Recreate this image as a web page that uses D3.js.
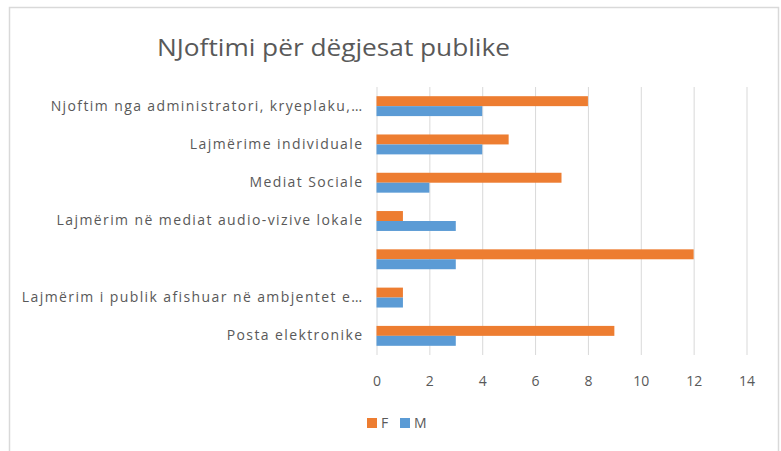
<!DOCTYPE html>
<html>
<head>
<meta charset="utf-8">
<script src="https://cdn.jsdelivr.net/npm/d3@7"></script>
<style>
  body { margin: 0; background: #fff; }
  svg { display: block; }
</style>
</head>
<body>
<div id="chart"></div>
<script>
// data
const categories = [
  "Njoftim nga administratori, kryeplaku,…",
  "Lajmërime individuale",
  "Mediat Sociale",
  "Lajmërim në mediat audio-vizive lokale",
  "",
  "Lajmërim i publik afishuar në ambjentet e…",
  "Posta elektronike"
];
const seriesNames = ["F", "M"];
const valuesF = [8, 5, 7, 1, 12, 1, 9];
const valuesM = [4, 4, 2, 3, 3, 1, 3];
const xTicks = [0, 2, 4, 6, 8, 10, 12, 14];
const colors = { F: "#ED7D31", M: "#5B9BD5" };

const W = 781, H = 451;
const svg = d3.select('#chart').append('svg')
  .attr('width', W).attr('height', H);

// chart frame
svg.append('rect')
  .attr('x', 9.5).attr('y', 7.5)
  .attr('width', 769).attr('height', 460)
  .attr('fill', '#fff').attr('stroke', '#d9d9d9').attr('stroke-width', 1.5);

// title
svg.append('text')
  .attr('x', 157).attr('y', 56)
  .attr('font-family', 'Open Sans, sans-serif')
  .attr('font-size', 23)
  .attr('fill', '#595959')
  .attr('textLength', 353)
  .attr('lengthAdjust', 'spacingAndGlyphs')
  .text('NJoftimi për dëgjesat publike');

const x = d3.scaleLinear().domain([0, 14]).range([376.5, 746.5]);
const y = d3.scaleBand().domain(d3.range(categories.length))
  .range([87, 355]).paddingInner(0.48).paddingOuter(0.24);
const ySub = d3.scaleBand().domain(seriesNames).range([0, y.bandwidth()]);

// gridlines
svg.append('g').selectAll('line').data(xTicks).join('line')
  .attr('x1', d => x(d) + 0.5).attr('x2', d => x(d) + 0.5)
  .attr('y1', 87).attr('y2', 355)
  .attr('stroke', '#d9d9d9').attr('stroke-width', 1);

// bars
const rows = categories.map((c, i) => ({ i, F: valuesF[i], M: valuesM[i] }));
const g = svg.append('g');
const grp = g.selectAll('g').data(rows).join('g')
  .attr('transform', d => `translate(0,${y(d.i)})`);
grp.selectAll('rect').data(d => seriesNames.map(k => ({ k, v: d[k] }))).join('rect')
  .attr('x', x(0))
  .attr('y', d => ySub(d.k))
  .attr('width', d => x(d.v) - x(0))
  .attr('height', ySub.bandwidth())
  .attr('fill', d => colors[d.k]);

// category axis
const yAxis = svg.append('g')
  .attr('transform', `translate(${x(0)},0)`)
  .call(d3.axisLeft(y).tickSize(0).tickPadding(13).tickFormat(i => categories[i]));
yAxis.select('.domain').remove();
yAxis.selectAll('text')
  .attr('font-family', 'Open Sans, sans-serif')
  .attr('font-size', 14)
  .attr('letter-spacing', 1.4)
  .attr('fill', '#595959');

// value axis
const xAxis = svg.append('g')
  .attr('transform', 'translate(0,355)')
  .call(d3.axisBottom(x).tickValues(xTicks).tickSize(0).tickPadding(21));
xAxis.select('.domain').remove();
xAxis.selectAll('text')
  .attr('font-family', 'Open Sans, sans-serif')
  .attr('font-size', 14)
  .attr('fill', '#595959');

// legend
const legendX = [367, 400];
const lg = svg.append('g').selectAll('g').data(seriesNames).join('g')
  .attr('transform', (d, i) => `translate(${legendX[i]},418)`);
lg.append('rect').attr('width', 10).attr('height', 10)
  .attr('fill', d => colors[d]);
lg.append('text').attr('x', 14).attr('y', 10)
  .attr('font-family', 'Open Sans, sans-serif')
  .attr('font-size', 14)
  .attr('fill', '#595959')
  .text(d => d);
</script>
</body>
</html>
